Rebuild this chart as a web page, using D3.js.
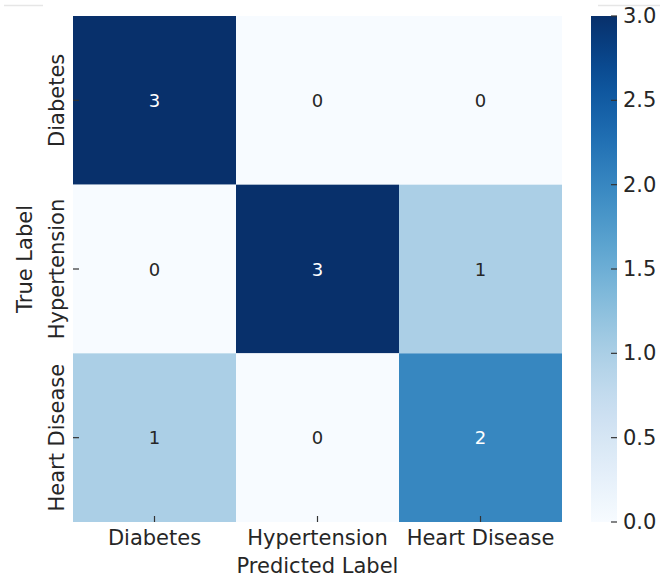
<!DOCTYPE html>
<html>
<head>
<meta charset="utf-8">
<script src="https://cdn.jsdelivr.net/npm/d3@7"></script>
<style>
  html, body { margin: 0; padding: 0; background: #fff; }
  svg { display: block; font-family: "DejaVu Sans", sans-serif; }
</style>
</head>
<body>
<svg id="chart" width="660" height="581"></svg>
<script>
const categories = ["Diabetes", "Hypertension", "Heart Disease"];
const matrix = [
  [3, 0, 0],
  [0, 3, 1],
  [1, 0, 2]
];
const colorbarTicks = [0.0, 0.5, 1.0, 1.5, 2.0, 2.5, 3.0];
const xTitle = "Predicted Label";
const yTitle = "True Label";

const svg = d3.select("#chart");
const textColor = "#262626";

const plotL = 73, plotR = 562, plotT = 16, plotB = 522;

const x = d3.scaleBand().domain(categories).range([plotL, plotR]);
const y = d3.scaleBand().domain(categories).range([plotT, plotB]);
const vmax = 3;
const color = v => d3.interpolateBlues(v / vmax);

// faint screenshot border lines
svg.append("line").attr("x1", 4).attr("x2", 43).attr("y1", 5.5).attr("y2", 5.5)
  .attr("stroke", "#e6e6e6").attr("stroke-width", 1.5);
svg.append("line").attr("x1", 598).attr("x2", 660).attr("y1", 5.5).attr("y2", 5.5)
  .attr("stroke", "#e6e6e6").attr("stroke-width", 1.5);

const cells = [];
matrix.forEach((row, i) => row.forEach((v, j) => cells.push({ r: categories[i], c: categories[j], v })));

svg.append("g").selectAll("rect").data(cells).join("rect")
  .attr("x", d => x(d.c))
  .attr("y", d => y(d.r))
  .attr("width", x.bandwidth())
  .attr("height", y.bandwidth())
  .attr("fill", d => color(d.v));

svg.append("g").selectAll("text").data(cells).join("text")
  .attr("x", d => x(d.c) + x.bandwidth() / 2)
  .attr("y", d => y(d.r) + y.bandwidth() / 2)
  .attr("text-anchor", "middle")
  .attr("dominant-baseline", "central")
  .attr("font-size", 18)
  .attr("fill", d => d.v / vmax > 0.5 ? "#ffffff" : textColor)
  .text(d => d.v);

// x ticks (drawn inward)
const xg = svg.append("g");
categories.forEach(c => {
  const cx = x(c) + x.bandwidth() / 2;
  xg.append("line").attr("x1", cx).attr("x2", cx).attr("y1", plotB - 6).attr("y2", plotB)
    .attr("stroke", "#333").attr("stroke-width", 1.2);
  xg.append("text").attr("x", cx).attr("y", 545).attr("text-anchor", "middle")
    .attr("font-size", 21).attr("fill", textColor).text(c);
});

// y ticks
const yg = svg.append("g");
categories.forEach(c => {
  const cy = y(c) + y.bandwidth() / 2;
  yg.append("line").attr("x1", plotL).attr("x2", plotL + 6).attr("y1", cy).attr("y2", cy)
    .attr("stroke", "#333").attr("stroke-width", 1.2);
  yg.append("text").attr("transform", `translate(64,${cy}) rotate(-90)`)
    .attr("text-anchor", "middle").attr("font-size", 21).attr("fill", textColor).text(c);
});

svg.append("text").attr("x", (plotL + plotR) / 2).attr("y", 573).attr("text-anchor", "middle")
  .attr("font-size", 21).attr("fill", textColor).text(xTitle);
svg.append("text").attr("transform", `translate(32,259) rotate(-90)`).attr("text-anchor", "middle")
  .attr("font-size", 21).attr("fill", textColor).text(yTitle);

// colorbar
const cbX = 591, cbW = 26;
const cbScale = d3.scaleLinear().domain([0, vmax]).range([plotB, plotT]);
const defs = svg.append("defs");
const grad = defs.append("linearGradient").attr("id", "cbgrad")
  .attr("x1", 0).attr("y1", 1).attr("x2", 0).attr("y2", 0);
d3.range(0, 1.0001, 0.05).forEach(t => {
  grad.append("stop").attr("offset", t).attr("stop-color", d3.interpolateBlues(t));
});
svg.append("rect").attr("x", cbX).attr("y", plotT).attr("width", cbW).attr("height", plotB - plotT)
  .attr("fill", "url(#cbgrad)");

const cbg = svg.append("g");
colorbarTicks.forEach(t => {
  const ty = cbScale(t);
  cbg.append("line").attr("x1", cbX + cbW - 6).attr("x2", cbX + cbW).attr("y1", ty).attr("y2", ty)
    .attr("stroke", "#333").attr("stroke-width", 1.2);
  cbg.append("text").attr("x", 623).attr("y", ty).attr("dominant-baseline", "central")
    .attr("font-size", 21).attr("fill", textColor).text(d3.format(".1f")(t));
});
</script>
</body>
</html>
